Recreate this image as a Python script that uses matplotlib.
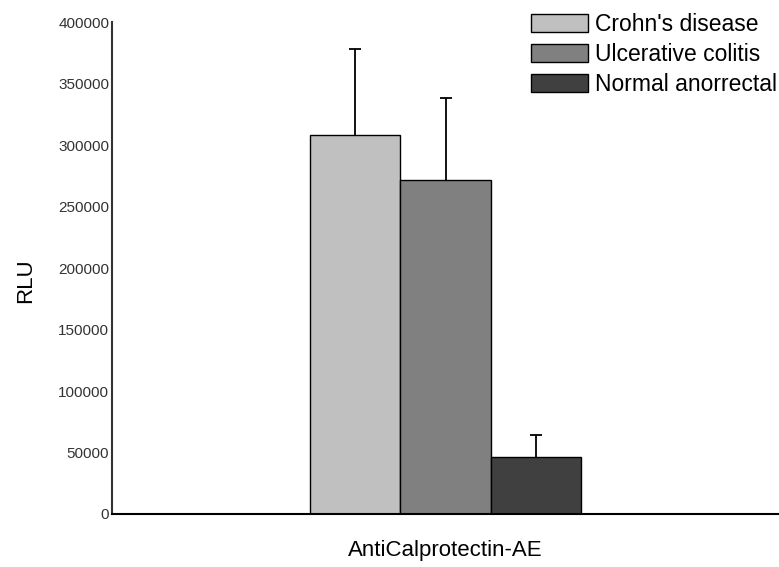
import matplotlib.pyplot as plt
import numpy as np

plt.rcParams['font.family'] = ['Liberation Sans', 'DejaVu Sans']

# dados
category = 'AntiCalprotectin-AE'
groups = ["Crohn's disease", 'Ulcerative colitis', 'Normal anorrectal']
means = [308000, 272000, 46000]
errors = [70000, 66000, 18000]
colors = ['#C0C0C0', '#808080', '#404040']
yticks = [0, 50000, 100000, 150000, 200000, 250000, 300000, 350000, 400000]

fig = plt.figure(figsize=(7.79, 5.67), dpi=100, facecolor='w')
ax = fig.add_axes([0.1438, 0.0935, 0.8562, 0.8675])

width = 0.27
offsets = (np.arange(len(groups)) - 1) * width
for i in range(len(groups)):
    ax.bar(offsets[i], means[i], width, color=colors[i], edgecolor='black',
           linewidth=1.0, label=groups[i], zorder=2)
    eb = ax.errorbar(offsets[i], means[i], yerr=[[0], [errors[i]]], fmt='none',
                     ecolor='black', elinewidth=1.3, capsize=4, capthick=1.3, zorder=3)
    eb[1][0].set_visible(False)   # so a barra de cima

ax.set_xlim(-1, 1)
ax.set_ylim(0, 400000)
ax.set_yticks(yticks)
ax.set_yticklabels([str(v) for v in yticks], fontsize=11, color='#333333')
ax.tick_params(axis='y', length=0, pad=2)
ax.set_xticks([0])
ax.set_xticklabels([category], fontsize=16)
ax.tick_params(axis='x', length=0, pad=19)
ax.set_ylabel('RLU', fontsize=16, labelpad=16, y=0.474)

ax.spines['top'].set_visible(False)
ax.spines['right'].set_visible(False)
ax.spines['left'].set_linewidth(1.5)
ax.spines['bottom'].set_linewidth(1.5)
ax.spines['left'].set_color('#333333')

leg = ax.legend(loc='upper right', bbox_to_anchor=(0.997, 1.018), fontsize=16.5,
                frameon=False, handlelength=2.5, handleheight=0.85,
                labelspacing=0.3, handletextpad=0.3, borderpad=0, borderaxespad=0)

plt.savefig('out.png')
